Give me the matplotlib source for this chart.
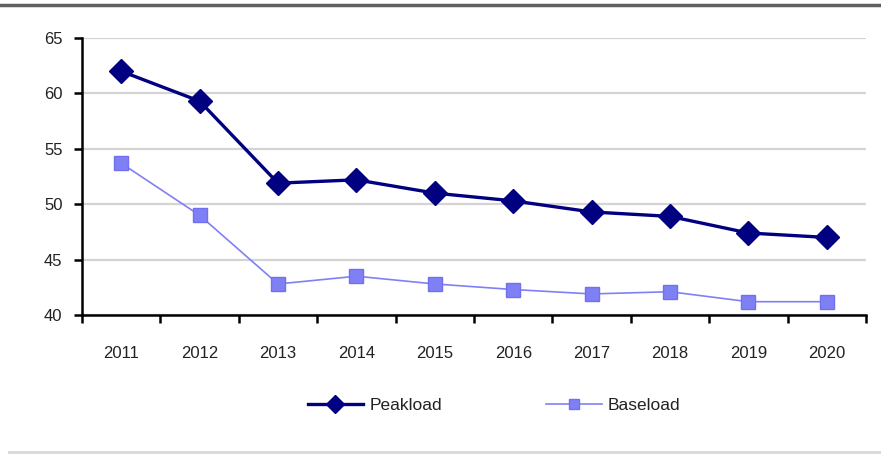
import matplotlib
matplotlib.use("Agg")
import matplotlib.pyplot as plt
from matplotlib.lines import Line2D

years = ["2011", "2012", "2013", "2014", "2015", "2016", "2017", "2018", "2019", "2020"]
peakload = [62.0, 59.3, 51.9, 52.2, 51.0, 50.3, 49.3, 48.9, 47.4, 47.0]
baseload = [53.7, 49.0, 42.8, 43.5, 42.8, 42.3, 41.9, 42.1, 41.2, 41.2]
yticks = [40, 45, 50, 55, 60, 65]

plt.rcParams['font.family'] = ['Liberation Sans', 'DejaVu Sans']

fig = plt.figure(figsize=(8.81, 4.54), dpi=100)
ax = fig.add_axes([82/881, 1-315/454, (866-82)/881, (315-38)/454])

x = list(range(len(years)))
ax.plot(x, peakload, color='#000080', lw=2.4, marker='D', markersize=12.5,
        label='Peakload', zorder=4)
ax.plot(x, baseload, color='#8080F5', lw=1.2, marker='s', markersize=9.5,
        markeredgecolor='#7070F0', label='Baseload', zorder=3)

ax.set_xlim(-0.5, len(years) - 0.5)
ax.set_ylim(40, 65)
ax.set_yticks(yticks)
ax.set_yticklabels([str(v) for v in yticks])
ax.yaxis.grid(True, color='#d4d4d4', lw=1.6)
ax.set_axisbelow(True)

ax.set_xticks([i - 0.5 for i in range(len(years) + 1)])
ax.set_xticklabels([])
ax.set_xticks(x, minor=True)
ax.set_xticklabels(years, minor=True)
ax.tick_params(axis='x', which='major', direction='out', length=6, width=1.8, color='black')
ax.tick_params(axis='x', which='minor', length=0, pad=22, labelsize=12, labelcolor='#222222')
ax.tick_params(axis='y', direction='out', length=6, width=1.8, pad=8, labelsize=12, labelcolor='#222222')

for s in ['top', 'right']:
    ax.spines[s].set_visible(False)
for s in ['left', 'bottom']:
    ax.spines[s].set_linewidth(1.8)
    ax.spines[s].set_color('black')

fig.legend(loc='center', bbox_to_anchor=(494/881, 1-405/454), ncol=2, frameon=False,
           fontsize=12.5, handlelength=3.2, handletextpad=0.35, columnspacing=6.0,
           markerscale=0.75, labelcolor='#222222', borderpad=0)

fig.add_artist(Line2D([0, 1], [1-5/454, 1-5/454], color='#606060', lw=2.5, transform=fig.transFigure))
fig.add_artist(Line2D([0.01, 1], [1-452/454, 1-452/454], color='#d8d8d8', lw=2, transform=fig.transFigure))

fig.savefig('out.png', dpi=100)
